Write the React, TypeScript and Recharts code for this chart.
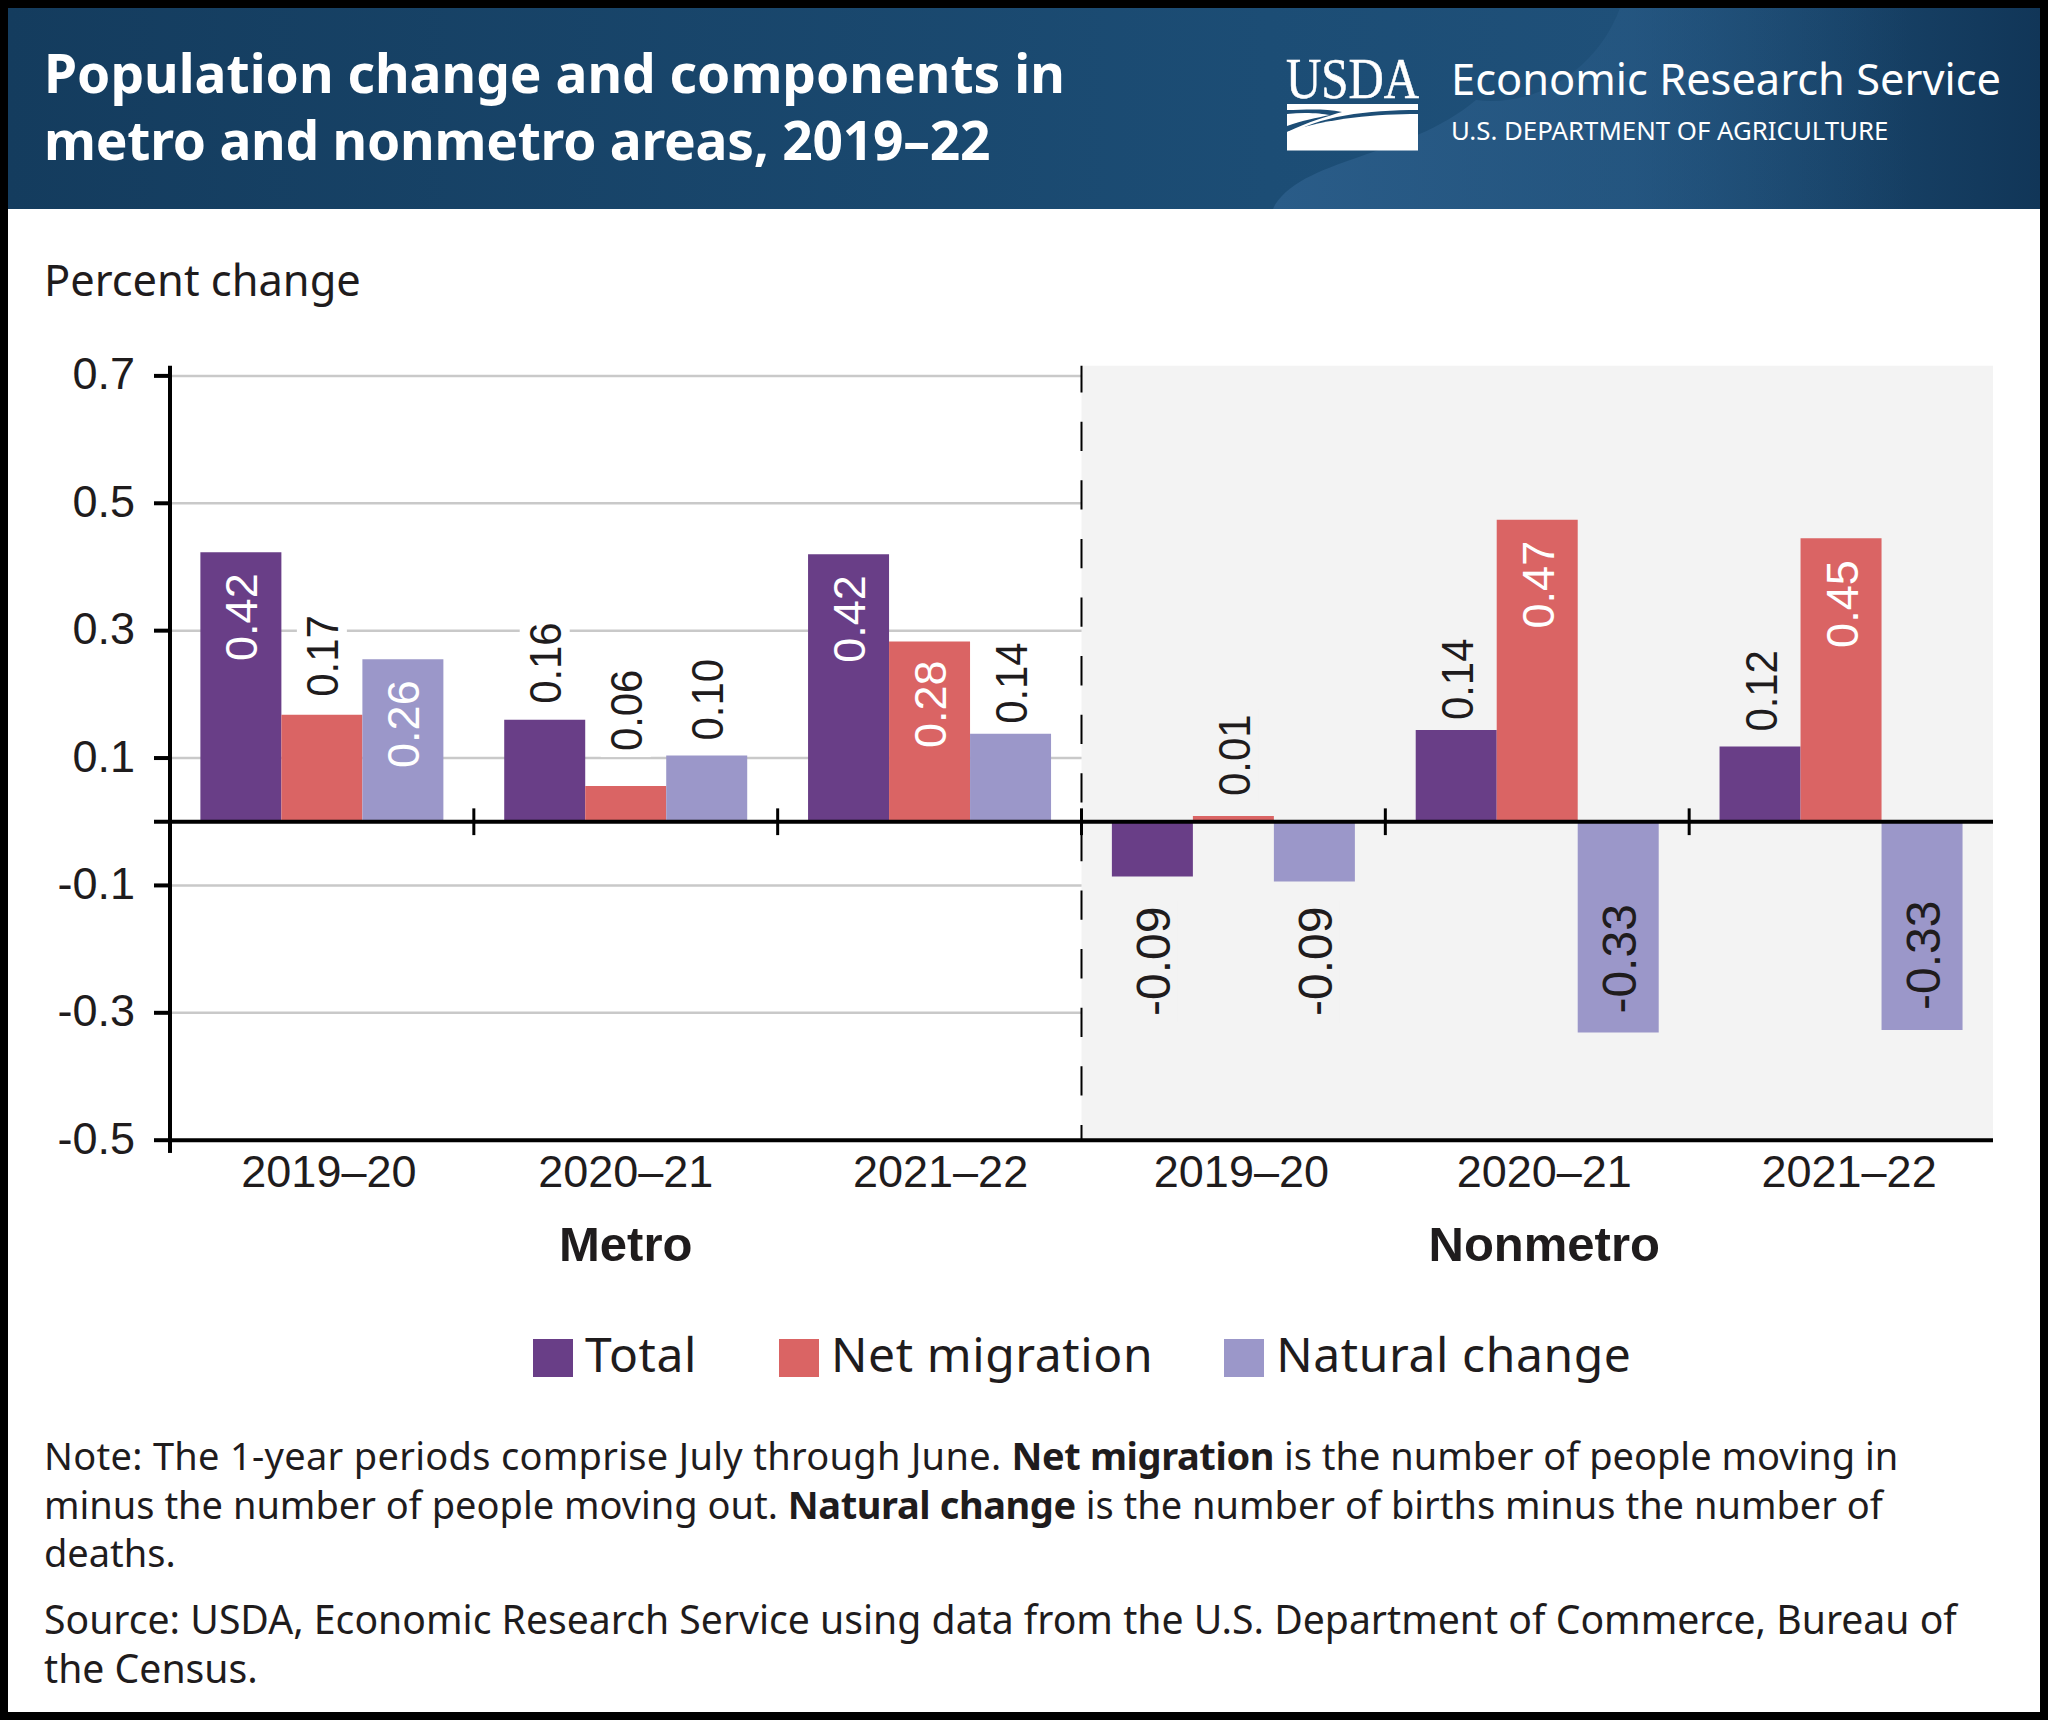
import { BarChart, Bar, XAxis, YAxis, CartesianGrid, LabelList, Legend, ReferenceArea, ReferenceLine } from 'recharts';

const periods = ['2019–20', '2020–21', '2021–22'];
const groups = ['Metro', 'Nonmetro'];

const totalValues = [0.423, 0.16, 0.42, -0.086, 0.144, 0.118];
const netMigrationValues = [0.168, 0.056, 0.283, 0.009, 0.474, 0.445];
const naturalChangeValues = [0.255, 0.104, 0.138, -0.094, -0.331, -0.327];

const totalLabels = ['0.42', '0.16', '0.42', '-0.09', '0.14', '0.12'];
const netMigrationLabels = ['0.17', '0.06', '0.28', '0.01', '0.47', '0.45'];
const naturalChangeLabels = ['0.26', '0.10', '0.14', '-0.09', '-0.33', '-0.33'];

const yTicks = [-0.5, -0.3, -0.1, 0, 0.1, 0.3, 0.5, 0.7];

const noteLines = [
  ['Note: The 1-year periods comprise July through June. ', 'Net migration', ' is the number of people moving in'],
  ['minus the number of people moving out. ', 'Natural change', ' is the number of births minus the number of'],
  ['deaths.'],
];
const sourceLines = ['Source: USDA, Economic Research Service using data from the U.S. Department of Commerce, Bureau of', 'the Census.'];

const data = groups.flatMap((group, g) =>
  periods.map((period, p) => ({
    id: `${group} ${period}`,
    total: totalValues[g * 3 + p],
    netMigration: netMigrationValues[g * 3 + p],
    naturalChange: naturalChangeValues[g * 3 + p],
  })),
);

const INK = '#1f1c1d';
const BODY_FONT = '"Noto Sans", sans-serif';
const CHART_FONT = '"Liberation Sans", Arial, sans-serif';
const BAND_GREY = '#f3f3f3';
const TICK_NUDGE = [7, 0, 11, 8, 7, 8];

const SERIES = [
  { key: 'total', name: 'Total', color: '#693e87', labels: totalLabels, white: [0, 2], gaps: [21, 16, 21, 30, 10, 15] },
  { key: 'netMigration', name: 'Net migration', color: '#da6464', labels: netMigrationLabels, white: [2, 4, 5], gaps: [18, 35, 19, 20, 21, 22] },
  { key: 'naturalChange', name: 'Natural change', color: '#9b97c9', labels: naturalChangeLabels, white: [0], gaps: [21, 15, 10, 25, 19, 20] },
];

// labels that sit inside their bar have no backing box
const INSIDE = { total: [0, 2], netMigration: [2, 4, 5], naturalChange: [0, 4, 5] };

function makeBarLabel(series: (typeof SERIES)[number]) {
  return function BarLabel(props: any) {
    const { x, y, width, height, index } = props;
    const top = Math.min(y, y + height);
    const bottom = Math.max(y, y + height);
    const cx = x + width / 2;
    const text = series.labels[index];
    const negative = text.startsWith('-');
    const inside = INSIDE[series.key as keyof typeof INSIDE].includes(index);
    const gap = series.gaps[index];
    const squeeze = !negative && !inside ? 0.93 : 1;
    const len = negative ? 110 : 88 * squeeze;
    let anchorY = top - gap;
    let anchor = 'start';
    if (!negative && inside) {
      anchorY = top + gap;
      anchor = 'end';
    } else if (negative && inside) {
      anchorY = bottom - gap;
      anchor = 'start';
    } else if (negative) {
      anchorY = bottom + gap;
      anchor = 'end';
    }
    const boxTop = anchor === 'start' ? anchorY - len : anchorY;
    return (
      <g>
        {!inside && <rect x={cx - 25} y={boxTop - 6} width={50} height={len + 12} fill={index > 2 ? BAND_GREY : '#fff'} />}
        <text
          transform={`translate(${cx + 1},${anchorY}) rotate(-90) scale(${squeeze},1)`}
          textAnchor={anchor}
          dominantBaseline="central"
          fontFamily={CHART_FONT}
          fontSize={negative ? 48 : 45}
          fill={series.white.includes(index) ? '#fff' : INK}
        >
          {text}
        </text>
      </g>
    );
  };
}

function PeriodTick(props: any) {
  const { x, y, payload, index } = props;
  const period = payload.value.split(' ')[1];
  const tickX = x + TICK_NUDGE[index];
  return (
    <g fontFamily={CHART_FONT} fill={INK}>
      <text x={tickX} y={y + 39} textAnchor="middle" fontSize={45}>{period}</text>
      {(index === 1 || index === 4) && (
        <text x={tickX} y={y + 113} textAnchor="middle" fontSize={49} fontWeight={700}>
          {groups[index === 1 ? 0 : 1]}
        </text>
      )}
    </g>
  );
}

function ValueTick(props: any) {
  const { x, y, payload } = props;
  if (payload.value === 0) return null;
  return (
    <text x={x} y={y - 2} textAnchor="end" dominantBaseline="central" fontFamily={CHART_FONT} fontSize={45} fill={INK}>
      {payload.value.toFixed(1)}
    </text>
  );
}

function LegendRow({ payload }: any) {
  return (
    <div style={{ display: 'flex', height: 50, marginLeft: 533, alignItems: 'center', fontFamily: BODY_FONT, fontSize: 48, letterSpacing: 0.6, color: INK }}>
      {(payload ?? []).map((entry: any, i: number) => (
        <div key={entry.value} style={{ display: 'flex', alignItems: 'center', marginRight: i === 0 ? 82 : 71 }}>
          <span style={{ width: 40, height: 38, background: entry.color, marginRight: 12, position: 'relative', top: 5 }} />
          <span>{entry.value}</span>
        </div>
      ))}
    </div>
  );
}

function Header() {
  return (
    <div style={{ position: 'absolute', left: 8, top: 8, width: 2032, height: 201, overflow: 'hidden', background: 'linear-gradient(90deg,#143c5e 0%,#1c4d75 62%,#1f5079 80%,#113658 100%)', color: '#fff' }}>
      <svg width={2032} height={201} style={{ position: 'absolute', left: 0, top: 0 }}>
        <defs>
          <linearGradient id="swoosh" x1="0" x2="1" y1="0" y2="0">
            <stop offset="0" stopColor="#2a5c88" />
            <stop offset="1" stopColor="#2a5c88" stopOpacity="0" />
          </linearGradient>
        </defs>
        <path d="M1612 0 C1590 60 1530 100 1468 92 C1400 150 1290 150 1265 201 L1900 201 L1900 0 Z" fill="url(#swoosh)" />
        <text x={1278} y={90} fontFamily='"Liberation Serif", serif' fontSize={58} fill="#fff" stroke="#fff" strokeWidth={0.6} textLength={133} lengthAdjust="spacingAndGlyphs">USDA</text>
        <path d="M1279 96 L1410 96 L1410 102 C1360 102 1310 108 1279 128 L1279 124 C1300 114 1320 108 1334 104 C1315 100 1295 102 1279 102 Z" fill="#fff" />
        <path d="M1279 106 C1295 104 1312 105 1322 107 C1308 110 1295 112 1279 118 Z" fill="#fff" />
        <path d="M1279 142.5 L1279 124 C1320 110 1370 106 1410 106 L1410 142.5 Z" fill="#fff" />
      </svg>
      {['Population change and components in', 'metro and nonmetro areas, 2019–22'].map((line, i) => (
        <div key={line} style={{ position: 'absolute', left: 36, top: 32 + i * 67, fontFamily: BODY_FONT, fontWeight: 700, fontSize: 53.3, letterSpacing: i === 1 ? -0.24 : 0, lineHeight: '66px', whiteSpace: 'nowrap' }}>
          {line}
        </div>
      ))}
      <div style={{ position: 'absolute', left: 1443, top: 41, fontFamily: BODY_FONT, fontSize: 43.4, lineHeight: '60px', whiteSpace: 'nowrap' }}>Economic Research Service</div>
      <div style={{ position: 'absolute', left: 1443, top: 104, fontFamily: BODY_FONT, fontSize: 25.8, lineHeight: '36px', whiteSpace: 'nowrap' }}>U.S. DEPARTMENT OF AGRICULTURE</div>
    </div>
  );
}

function Notes() {
  const lineStyle = (top: number, size: number) => ({ position: 'absolute' as const, left: 44, top, fontFamily: BODY_FONT, fontSize: size, lineHeight: '48px', color: INK, whiteSpace: 'nowrap' as const });
  return (
    <>
      {noteLines.map((parts, i) => (
        <div key={i} style={lineStyle(1431 + i * 48.5, 38)}>
          {parts.map((part, j) => (
            <span key={j} style={{ fontWeight: j === 1 ? 700 : 400, letterSpacing: j === 1 ? -0.4 : i === 0 && j === 0 ? 0.3 : 0 }}>{part}</span>
          ))}
        </div>
      ))}
      {sourceLines.map((line, i) => (
        <div key={i} style={lineStyle(1595 + i * 48.5, 39.15)}>{line}</div>
      ))}
    </>
  );
}

export default function App() {
  const firstNonmetro = data[3].id;
  return (
    <div style={{ position: 'absolute', left: 0, top: 0, width: 2048, height: 1720, background: '#000' }}>
      <div style={{ position: 'absolute', left: 8, top: 8, width: 2032, height: 1704, background: '#fff' }} />
      <Header />
      <div style={{ position: 'absolute', left: 44, top: 250, fontFamily: BODY_FONT, fontSize: 43.4, lineHeight: '60px', color: INK }}>Percent change</div>
      <div style={{ position: 'absolute', left: 0, top: 0 }}>
        <BarChart width={2048} height={1440} data={data} barCategoryGap="10%" barGap={0} margin={{ top: 365.7, right: 55, bottom: 189.8, left: 0 }}>
          <ReferenceArea x1={data[3].id} x2={data[5].id} fill={BAND_GREY} fillOpacity={1} stroke="none" />
          <CartesianGrid horizontal vertical={false} horizontalValues={[0.7, 0.5, 0.3, 0.1, -0.1, -0.3]} stroke="#c9c9c9" strokeWidth={2.5} />
          <XAxis dataKey="id" height={60} interval={0} tick={<PeriodTick />} tickLine={false} axisLine={{ stroke: '#000', strokeWidth: 4 }} />
          <YAxis
            width={170}
            domain={[-0.5, 0.716]}
            ticks={yTicks}
            tick={<ValueTick />}
            tickSize={16}
            tickMargin={19}
            tickLine={{ stroke: '#000', strokeWidth: 4 }}
            axisLine={{ stroke: '#000', strokeWidth: 4 }}
          />
          <Legend
            content={<LegendRow />}
            verticalAlign="bottom"
            itemSorter={null}
            wrapperStyle={{ left: 0, top: 1328, bottom: 'auto', width: 2048, height: 50 }}
          />
          {SERIES.map((s) => (
            <Bar key={s.key} dataKey={s.key} name={s.name} fill={s.color} isAnimationActive={false}>
              <LabelList content={makeBarLabel(s)} />
            </Bar>
          ))}
          <ReferenceLine y={0} stroke="#000" strokeWidth={4} />
          <ReferenceLine x={firstNonmetro} position="start" stroke="#000" strokeWidth={2} strokeDasharray="29.3 29.3" strokeDashoffset={14} />
          {data.slice(1).map((row) => (
            <ReferenceLine
              key={row.id}
              position="start"
              ifOverflow="visible"
              segment={[{ x: row.id, y: -0.021 }, { x: row.id, y: 0.021 }]}
              stroke="#000"
              strokeWidth={3}
            />
          ))}
          <ReferenceLine
            position="start"
            ifOverflow="visible"
            segment={[{ x: data[0].id, y: -0.5 }, { x: data[0].id, y: -0.52 }]}
            stroke="#000"
            strokeWidth={4}
          />
        </BarChart>
      </div>
      <Notes />
    </div>
  );
}
